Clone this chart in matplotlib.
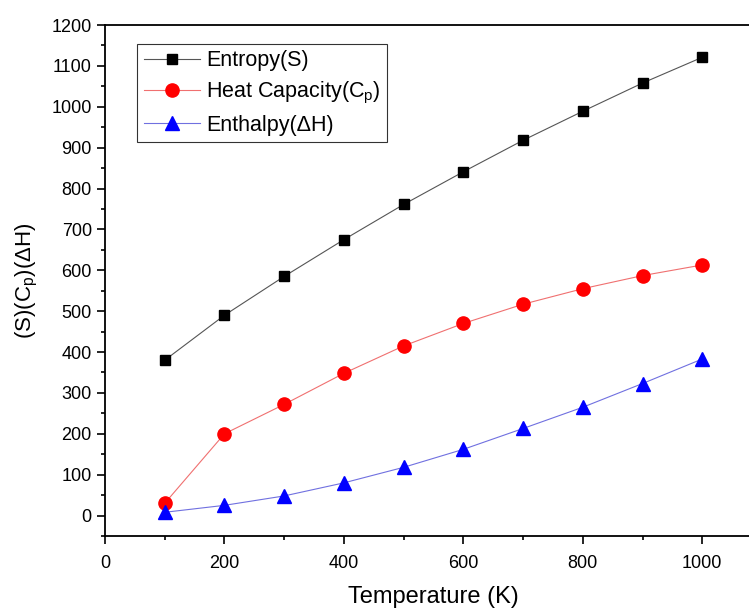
import matplotlib
matplotlib.use("Agg")
import matplotlib.pyplot as plt
from matplotlib.ticker import MultipleLocator

plt.rcParams['font.family'] = ['Liberation Sans', 'DejaVu Sans']
plt.rcParams['mathtext.fontset'] = 'custom'
plt.rcParams['mathtext.rm'] = 'Liberation Sans'
plt.rcParams['mathtext.it'] = 'Liberation Sans'

temperature = [100, 200, 300, 400, 500, 600, 700, 800, 900, 1000]
entropy = [380, 490, 585, 675, 761, 841, 918, 989, 1058, 1121]
heat_capacity = [30, 200, 272, 348, 415, 470, 517, 555, 587, 613]
enthalpy = [8, 25, 48, 80, 118, 162, 213, 265, 323, 383]

fig = plt.figure(figsize=(7.49, 6.10), dpi=100)
# axes run off the right edge of the picture, like the reference crop
ax = fig.add_axes([105 / 749, 1 - 536 / 610, 657 / 749, (536 - 25) / 610])

ax.plot(temperature, entropy, color='#555555', lw=0.8, marker='s', ms=7.5,
        mfc='black', mec='black', label='Entropy(S)')
ax.plot(temperature, heat_capacity, color='#f07070', lw=0.8, marker='o', ms=9.5,
        mfc='red', mec='red', label='Heat Capacity(C$_\\mathregular{p}$)')
ax.plot(temperature, enthalpy, color='#7070e0', lw=0.8, marker='^', ms=9.5,
        mfc='blue', mec='blue', label='Enthalpy(ΔH)')

ax.set_xlim(0, 1100)
ax.set_ylim(-50, 1200)
ax.xaxis.set_major_locator(MultipleLocator(200))
ax.xaxis.set_minor_locator(MultipleLocator(100))
ax.yaxis.set_major_locator(MultipleLocator(100))
ax.yaxis.set_minor_locator(MultipleLocator(50))
ax.tick_params(which='both', direction='out', labelsize=13, width=1.2)
ax.tick_params(which='major', length=6)
ax.tick_params(which='minor', length=3)
ax.tick_params(axis='x', pad=8)
for s in ax.spines.values():
    s.set_linewidth(1.3)

ax.set_xlabel('Temperature (K)', fontsize=17, labelpad=10)
ax.set_ylabel('(S)(C$_\\mathregular{p}$)(ΔH)', fontsize=16, labelpad=8)

leg = ax.legend(loc='upper left', bbox_to_anchor=(0.049, 0.963), borderaxespad=0,
                fontsize=15.5, frameon=True, fancybox=False, edgecolor='black',
                handlelength=2.6, borderpad=0.3, labelspacing=0.4, handletextpad=0.3)
leg.get_frame().set_linewidth(0.8)

fig.savefig('out.png', dpi=100)
